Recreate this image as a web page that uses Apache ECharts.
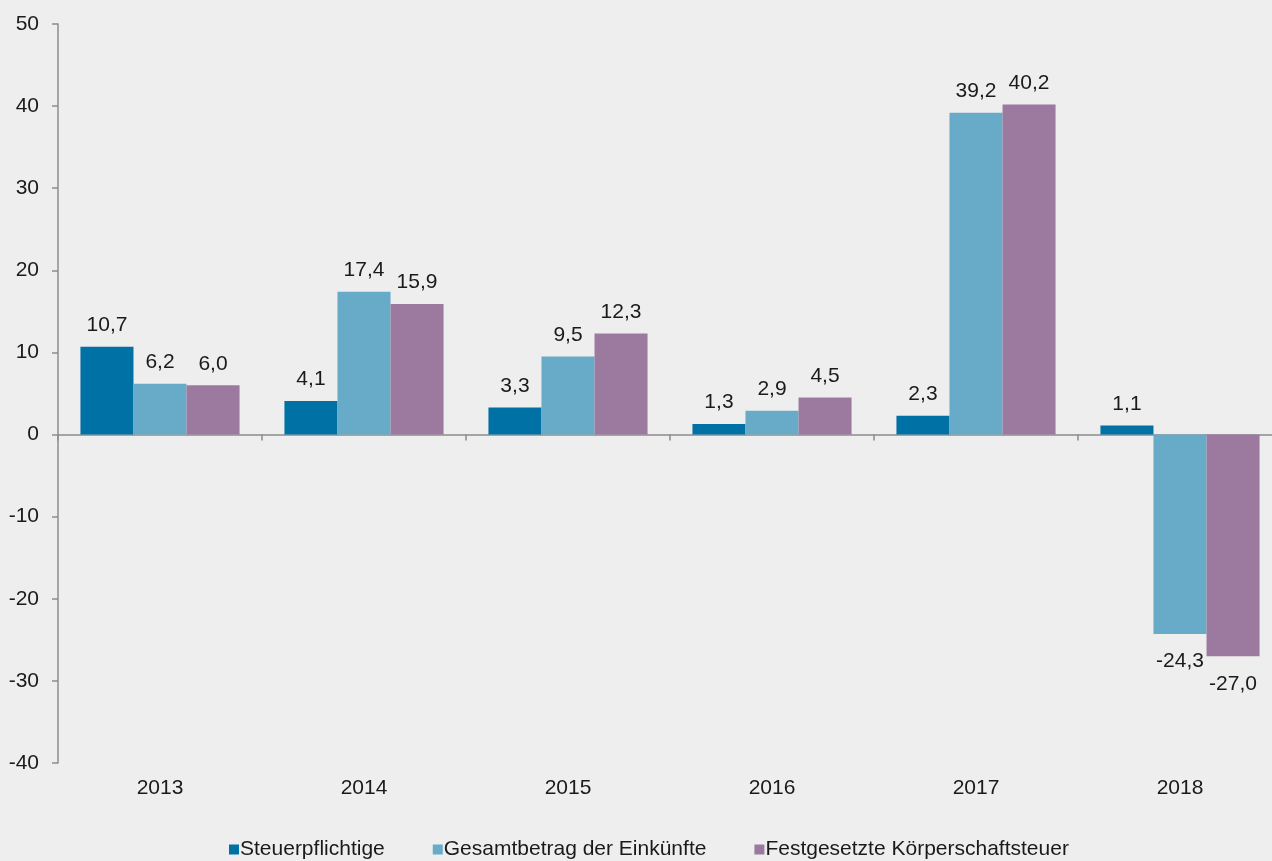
<!DOCTYPE html>
<html>
<head>
<meta charset="utf-8">
<script src="https://cdn.jsdelivr.net/npm/echarts@6/dist/echarts.min.js"></script>
<style>
  html, body { margin: 0; padding: 0; background: #eeeeee; overflow: hidden; }
  #chart { width: 1282px; height: 861px; }
</style>
</head>
<body>
<div id="chart"></div>
<script>
const years = ['2013', '2014', '2015', '2016', '2017', '2018'];
const steuerpflichtige = [10.7, 4.1, 3.3, 1.3, 2.3, 1.1];
const gesamtbetrag = [6.2, 17.4, 9.5, 2.9, 39.2, -24.3];
const koerperschaftsteuer = [6.0, 15.9, 12.3, 4.5, 40.2, -27.0];
const seriesNames = ['Steuerpflichtige', 'Gesamtbetrag der Einkünfte', 'Festgesetzte Körperschaftsteuer'];
const colors = ['#0071a4', '#67abc9', '#9c7aa0'];

const chart = echarts.init(document.getElementById('chart'), null, { renderer: 'canvas' });

function fmt(v) {
  return v.toFixed(1).replace('.', ',');
}

function makeSeries(name, values, color) {
  return {
    name: name,
    type: 'bar',
    data: values.map(v => ({
      value: v,
      label: v < 0 ? { position: 'bottom', distance: 17 } : { position: 'top' }
    })),
    barGap: '0%',
    barCategoryGap: '22%',
    itemStyle: { color: color },
    label: {
      show: true,
      distance: 11,
      color: '#1a1a1a',
      fontSize: 21,
      fontFamily: 'Liberation Sans, Arial',
      formatter: p => fmt(p.value)
    }
  };
}

chart.setOption({
  animation: false,
  backgroundColor: '#eeeeee',
  textStyle: { fontFamily: 'Liberation Sans, Arial' },
  grid: { left: 58, top: 24, bottom: 98, right: 0 },
  legend: {
    bottom: -4,
    left: 224,
    itemWidth: 10,
    itemHeight: 10,
    itemGap: 48,
    icon: 'rect',
    textStyle: { fontSize: 21, color: '#1a1a1a', padding: [0, 0, 0, -4] },
    data: seriesNames
  },
  xAxis: [
    {
      type: 'category',
      data: years,
      position: 'bottom',
      axisLine: { show: false, onZero: false },
      axisTick: { show: false },
      axisLabel: { fontSize: 21, color: '#1a1a1a', margin: 15 }
    },
    {
      type: 'category',
      data: years,
      position: 'bottom',
      axisLine: { show: true, onZero: true, lineStyle: { color: '#8c8c8c', width: 1.5 } },
      axisTick: { show: true, length: 6, lineStyle: { color: '#8c8c8c', width: 1.5 } },
      axisLabel: { show: false }
    }
  ],
  yAxis: {
    type: 'value',
    min: -40,
    max: 50,
    interval: 10,
    axisLine: { show: true, lineStyle: { color: '#8c8c8c', width: 1.5 } },
    axisTick: { show: true, length: 6, lineStyle: { color: '#8c8c8c', width: 1.5 } },
    splitLine: { show: false },
    axisLabel: { fontSize: 21, color: '#1a1a1a', margin: 19 }
  },
  series: [
    makeSeries(seriesNames[0], steuerpflichtige, colors[0]),
    makeSeries(seriesNames[1], gesamtbetrag, colors[1]),
    makeSeries(seriesNames[2], koerperschaftsteuer, colors[2])
  ]
});
</script>
</body>
</html>
